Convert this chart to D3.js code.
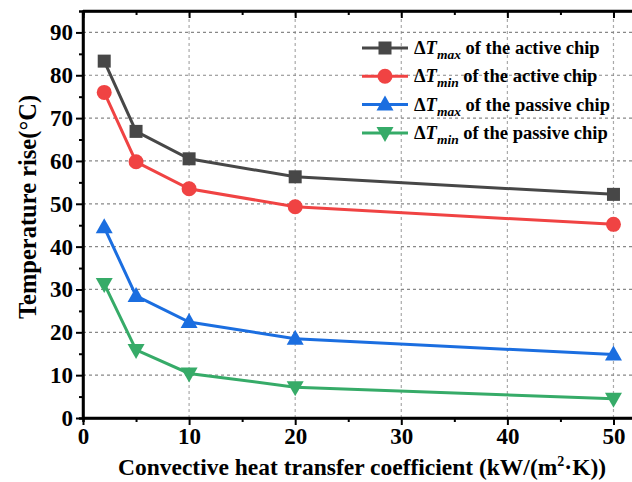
<!DOCTYPE html>
<html><head><meta charset="utf-8">
<script src="https://cdn.jsdelivr.net/npm/d3@7"></script>
<style>body{margin:0;background:#fff}svg{display:block}text{font-family:"Liberation Serif","Times New Roman",serif;font-weight:bold}</style>
</head><body>
<svg id="c" width="632" height="482"></svg>
<script>
const xValues = [2, 5, 10, 20, 50];
const activeMax = [83.3, 66.9, 60.5, 56.3, 52.2];
const activeMin = [76.0, 59.8, 53.5, 49.3, 45.2];
const passiveMax = [44.5, 28.5, 22.4, 18.5, 14.8];
const passiveMin = [31.3, 15.9, 10.4, 7.2, 4.5];
const xTicks = [0, 10, 20, 30, 40, 50];
const yTicks = [0, 10, 20, 30, 40, 50, 60, 70, 80, 90];

const svg = d3.select("#c");
const L = 83, R = 640, T = 11, B = 418;
const x = d3.scaleLinear().domain([0, 52.5]).range([L, R]);
const y = d3.scaleLinear().domain([0, 95]).range([B, T]);

// grid
const g = svg.append("g");
g.selectAll(".gx").data(xTicks.filter(d => d > 0)).enter().append("line")
  .attr("x1", d => x(d)).attr("x2", d => x(d)).attr("y1", B).attr("y2", T)
  .attr("stroke", "#aaa").attr("stroke-width", 1.2).attr("stroke-dasharray", "3,3");
g.selectAll(".gy").data(yTicks.filter(d => d > 0)).enter().append("line")
  .attr("y1", d => y(d)).attr("y2", d => y(d)).attr("x1", L).attr("x2", R)
  .attr("stroke", "#888").attr("stroke-width", 1.2).attr("stroke-dasharray", "3,3");

// axes
const minorX = d3.range(5, 55, 10);
const minorY = d3.range(5, 95, 10);
const ax = svg.append("g").attr("transform", `translate(0,${B})`)
  .call(d3.axisBottom(x).tickValues(xTicks).tickSize(7).tickPadding(3).tickFormat(d3.format("d")));
ax.selectAll(".tick text").attr("font-size", 23).attr("fill", "#000");
const axm = svg.append("g").attr("transform", `translate(0,${B})`)
  .call(d3.axisBottom(x).tickValues(minorX).tickSize(4).tickFormat(""));
const at = svg.append("g").attr("transform", `translate(0,${T})`)
  .call(d3.axisBottom(x).tickValues(xTicks).tickSize(7).tickFormat(""));
const atm = svg.append("g").attr("transform", `translate(0,${T})`)
  .call(d3.axisBottom(x).tickValues(minorX).tickSize(4).tickFormat(""));
const ay = svg.append("g").attr("transform", `translate(${L},0)`)
  .call(d3.axisLeft(y).tickValues(yTicks).tickSize(7).tickPadding(3).tickFormat(d3.format("d")));
ay.selectAll(".tick text").attr("font-size", 23).attr("fill", "#000");
const aym = svg.append("g").attr("transform", `translate(${L},0)`)
  .call(d3.axisLeft(y).tickValues(minorY).tickSize(4).tickFormat(""));
[ax, axm, at, atm, ay, aym].forEach(a => {
  a.select(".domain").attr("stroke", "#000").attr("stroke-width", 2.5);
  a.selectAll(".tick line").attr("stroke", "#000").attr("stroke-width", 2);
});
ay.select(".domain").attr("d", `M0,${B}V${T}`);
ax.select(".domain").attr("d", `M${L},0H${R}`);
at.select(".domain").attr("d", `M${L},0H${R}`);

// titles
svg.append("text").attr("x", 362).attr("y", 475).attr("text-anchor", "middle").attr("font-size", 23.5)
  .html('Convective heat transfer coefficient (kW/(m<tspan dy="-9" font-size="14">2</tspan><tspan dy="9">·K))</tspan>');
svg.append("text").attr("transform", "translate(36,207) rotate(-90)").attr("text-anchor", "middle")
  .attr("font-size", 24.5).text("Temperature rise(°C)");

// series
const series = [
  {vals: activeMax, color: "#474747", shape: "square", sub: "max", chip: "active"},
  {vals: activeMin, color: "#f04343", shape: "circle", sub: "min", chip: "active"},
  {vals: passiveMax, color: "#1b6ee0", shape: "up", sub: "max", chip: "passive"},
  {vals: passiveMin, color: "#36ab68", shape: "down", sub: "min", chip: "passive"}
];
function marker(sel, s, cx, cy) {
  if (s.shape === "square") sel.append("rect").attr("x", cx - 6.5).attr("y", cy - 6.5).attr("width", 13).attr("height", 13).attr("fill", s.color);
  else if (s.shape === "circle") sel.append("circle").attr("cx", cx).attr("cy", cy).attr("r", 7.5).attr("fill", s.color);
  else if (s.shape === "up") sel.append("path").attr("d", `M${cx},${cy-9}L${cx+8.5},${cy+6}L${cx-8.5},${cy+6}Z`).attr("fill", s.color);
  else sel.append("path").attr("d", `M${cx},${cy+9}L${cx+8.5},${cy-6}L${cx-8.5},${cy-6}Z`).attr("fill", s.color);
}
const line = d3.line().x(d => x(d[0])).y(d => y(d[1]));
series.forEach(s => {
  const pts = xValues.map((xv, i) => [xv, s.vals[i]]);
  svg.append("path").attr("d", line(pts)).attr("fill", "none").attr("stroke", s.color).attr("stroke-width", 3);
  const mg = svg.append("g");
  pts.forEach(p => marker(mg, s, x(p[0]), y(p[1])));
});

// legend
const lx = 362, ly0 = 48, dy = 28.3;
series.forEach((s, i) => {
  const yy = ly0 + i * dy;
  svg.append("line").attr("x1", lx).attr("x2", lx + 46).attr("y1", yy).attr("y2", yy).attr("stroke", s.color).attr("stroke-width", 3);
  marker(svg, s, lx + 23, yy);
  const t = svg.append("text").attr("x", lx + 52).attr("y", yy + 6).attr("font-size", 18.5).attr("fill", "#000");
  t.append("tspan").text("Δ");
  t.append("tspan").attr("font-style", "italic").text("T");
  t.append("tspan").attr("font-style", "italic").attr("font-size", 13.5).attr("dy", 5).text(s.sub);
  t.append("tspan").attr("dy", -5).text(" of the " + s.chip + " chip");
});
</script>
</body></html>
